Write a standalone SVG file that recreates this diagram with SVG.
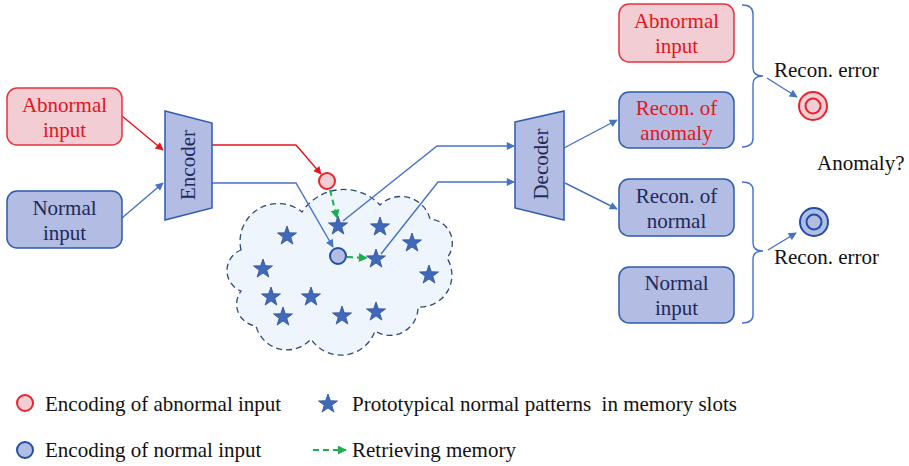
<svg xmlns="http://www.w3.org/2000/svg" width="909" height="466" viewBox="0 0 909 466" font-family="'Liberation Serif', 'DejaVu Serif', serif" font-size="21">
<defs>
<style>
text{font-family:'Liberation Serif','DejaVu Serif',serif;font-size:21px;}
.red{fill:#e8141b;}
.navy{fill:#1c2a5c;}
.blk{fill:#111;}
.boxr{fill:#f2cdd3;stroke:#e8323c;stroke-width:1.5;}
.boxb{fill:#b3bce2;stroke:#2c5bb0;stroke-width:1.5;}
.lb{fill:none;stroke:#4472c4;stroke-width:1.4;}
.lr{fill:none;stroke:#e8141b;stroke-width:1.4;}
.lg{fill:none;stroke:#1db04a;stroke-width:2;stroke-dasharray:6 4;}
.star{fill:#4169b9;stroke:#2d4f96;stroke-width:0.8;}
.cr{fill:#f2cdd3;stroke:#e8242c;stroke-width:2;}
.cb{fill:#b3bce2;stroke:#1f4fa5;stroke-width:2;}
</style>
<marker id="ab" viewBox="0 0 10 10" refX="9" refY="5" markerWidth="10" markerHeight="8" markerUnits="userSpaceOnUse" orient="auto"><path d="M0,0 L10,5 L0,10 z" fill="#4472c4"/></marker>
<marker id="ar" viewBox="0 0 10 10" refX="9" refY="5" markerWidth="10" markerHeight="8" markerUnits="userSpaceOnUse" orient="auto"><path d="M0,0 L10,5 L0,10 z" fill="#e8141b"/></marker>
<marker id="ag" viewBox="0 0 10 10" refX="9" refY="5" markerWidth="10" markerHeight="9" markerUnits="userSpaceOnUse" orient="auto"><path d="M0,0 L10,5 L0,10 z" fill="#1db04a"/></marker>
<path id="star" d="M0,-10 L2.35,-3.24 L9.51,-3.09 L3.8,1.24 L5.88,8.09 L0,4 L-5.88,8.09 L-3.8,1.24 L-9.51,-3.09 L-2.35,-3.24 Z"/>
</defs>

<g id="memory">
<path d="M241,250 A38,38 0 0 1 302,212 A50,50 0 0 1 380,205 A30,30 0 0 1 430,219 A24,24 0 0 1 447,258 A32,32 0 0 1 418,307 A28,28 0 0 1 375,331 A36,36 0 0 1 311,339 A32,32 0 0 1 256,326 A22,22 0 0 1 241,291 A22,22 0 0 1 241,250 Z" fill="#eef5fc" stroke="#2f4a7a" stroke-width="1.3" stroke-dasharray="6 4"/>
<g class="star">
<use href="#star" x="287" y="236"/>
<use href="#star" x="338" y="226"/>
<use href="#star" x="380" y="227"/>
<use href="#star" x="412" y="243"/>
<use href="#star" x="376" y="259"/>
<use href="#star" x="263" y="269"/>
<use href="#star" x="429" y="275"/>
<use href="#star" x="271" y="297"/>
<use href="#star" x="311" y="297"/>
<use href="#star" x="283" y="317"/>
<use href="#star" x="342" y="316"/>
<use href="#star" x="376" y="312"/>
</g>
</g>

<g id="connectors">
<path class="lr" d="M122,116 L163,150" marker-end="url(#ar)"/>
<path class="lb" d="M122,218 L163,183" marker-end="url(#ab)"/>
<path class="lr" d="M212,145 H296 L321,174" marker-end="url(#ar)"/>
<path class="lb" d="M212,183 H296 L333,247" marker-end="url(#ab)"/>
<path class="lb" d="M343,221 L437,146 H514" marker-end="url(#ab)"/>
<path class="lb" d="M381,254 L438,182 H514" marker-end="url(#ab)"/>
<path class="lb" d="M564,148 L617,120" marker-end="url(#ab)"/>
<path class="lb" d="M565,183 L617,209" marker-end="url(#ab)"/>
<path class="lg" d="M330,190 L337,218" marker-end="url(#ag)"/>
<path class="lg" d="M347,257 L367,258" marker-end="url(#ag)"/>
<path class="lb" d="M742,5 Q753,5 753,14 V68 Q753,76 763,76 Q753,76 753,84 V138 Q753,147 742,147" stroke-width="1.6"/>
<path class="lb" d="M742,182 Q753,182 753,190 V243 Q753,251 763,251 Q753,251 753,259 V315 Q753,323 742,323" stroke-width="1.6"/>
<path class="lb" d="M767,78 L797,97" marker-end="url(#ab)"/>
<path class="lb" d="M768,250 L796,233" marker-end="url(#ab)"/>
</g>

<g id="abnormal-input-left">
<rect class="boxr" x="7" y="88" width="115" height="57" rx="10"/>
<text class="red" x="64.5" y="112" text-anchor="middle">Abnormal</text>
<text class="red" x="64.5" y="137" text-anchor="middle">input</text>
</g>
<g id="normal-input-left">
<rect class="boxb" x="7" y="191" width="115" height="57" rx="10"/>
<text class="navy" x="64.5" y="215" text-anchor="middle">Normal</text>
<text class="navy" x="64.5" y="240" text-anchor="middle">input</text>
</g>
<g id="encoder">
<path class="boxb" d="M165,111 L212,123 L212,208 L165,220 Z"/>
<text class="navy" transform="translate(195,165) rotate(-90)" text-anchor="middle">Encoder</text>
</g>
<g id="decoder">
<path class="boxb" d="M515,122 L564,111 L564,220 L515,208 Z"/>
<text class="navy" transform="translate(548,164) rotate(-90)" text-anchor="middle">Decoder</text>
</g>
<g id="enc-abnormal">
<circle class="cr" cx="327" cy="181" r="8"/>
</g>
<g id="enc-normal">
<circle class="cb" cx="338" cy="256" r="8"/>
</g>

<g id="abnormal-input-right">
<rect class="boxr" x="619" y="4" width="115" height="58" rx="10"/>
<text class="red" x="676.5" y="28" text-anchor="middle">Abnormal</text>
<text class="red" x="676.5" y="53" text-anchor="middle">input</text>
</g>
<g id="recon-anomaly">
<rect class="boxb" x="619" y="92" width="115" height="56" rx="10"/>
<text class="red" x="676.5" y="115" text-anchor="middle">Recon. of</text>
<text class="red" x="676.5" y="140" text-anchor="middle">anomaly</text>
</g>
<g id="recon-normal">
<rect class="boxb" x="619" y="179" width="115" height="57" rx="10"/>
<text class="navy" x="676.5" y="203" text-anchor="middle">Recon. of</text>
<text class="navy" x="676.5" y="228" text-anchor="middle">normal</text>
</g>
<g id="normal-input-right">
<rect class="boxb" x="619" y="267" width="115" height="56" rx="10"/>
<text class="navy" x="676.5" y="290" text-anchor="middle">Normal</text>
<text class="navy" x="676.5" y="315" text-anchor="middle">input</text>
</g>

<g id="error-abnormal">
<circle class="cr" cx="813" cy="106" r="14"/>
<circle class="cr" cx="813" cy="106" r="7.5"/>
<text class="blk" x="774" y="77">Recon. error</text>
</g>
<g id="error-normal">
<circle class="cb" cx="814" cy="222" r="14"/>
<circle class="cb" cx="814" cy="222" r="7.5"/>
<text class="blk" x="774" y="264">Recon. error</text>
</g>
<text class="blk" x="817" y="170">Anomaly?</text>

<g id="legend">
<circle class="cr" cx="25" cy="403" r="8"/>
<text class="blk" x="45" y="411">Encoding of abnormal input</text>
<use href="#star" x="328" y="404" class="star"/>
<text class="blk" x="352" y="411" xml:space="preserve">Prototypical normal patterns  in memory slots</text>
<circle class="cb" cx="25" cy="450" r="8"/>
<text class="blk" x="45" y="457">Encoding of normal input</text>
<path class="lg" d="M313,450 L346,450" marker-end="url(#ag)"/>
<text class="blk" x="352" y="457">Retrieving memory</text>
</g>
</svg>
